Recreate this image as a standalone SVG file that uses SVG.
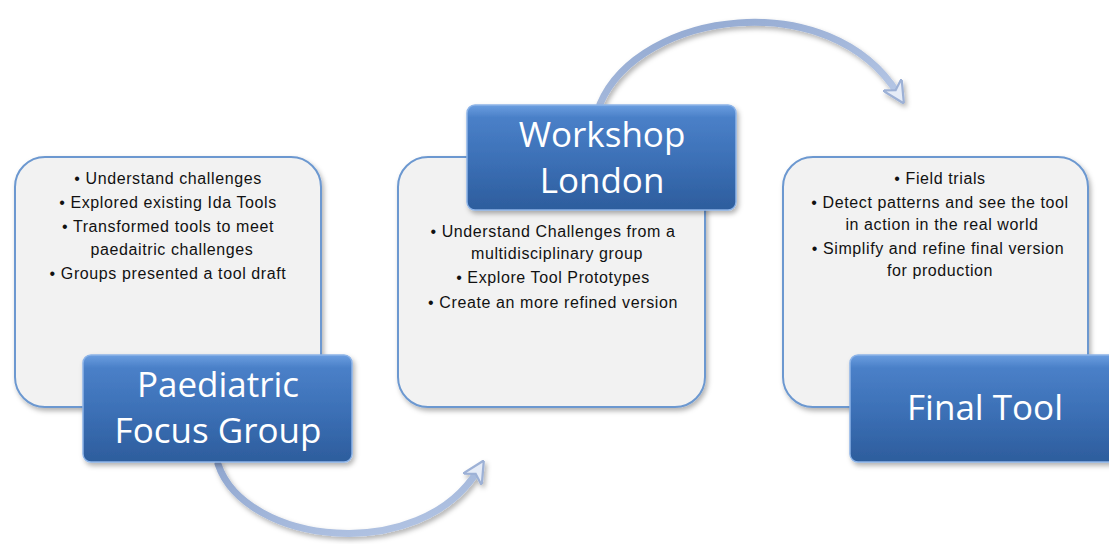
<svg xmlns="http://www.w3.org/2000/svg" width="1109" height="544" viewBox="0 0 1109 544">
<defs>
<linearGradient id="blueG" x1="0" y1="0" x2="0" y2="1">
<stop offset="0" stop-color="#6b9ee0"/>
<stop offset="0.12" stop-color="#4a80c8"/>
<stop offset="0.55" stop-color="#3b6fb5"/>
<stop offset="1" stop-color="#2d5d9d"/>
</linearGradient>
<linearGradient id="arrowG" x1="0" y1="0" x2="1" y2="1">
<stop offset="0" stop-color="#8fa6cf"/>
<stop offset="1" stop-color="#b7c8e6"/>
</linearGradient>
<filter id="sh" x="-10%" y="-10%" width="130%" height="130%">
<feDropShadow dx="2" dy="3" stdDeviation="2.5" flood-color="#000" flood-opacity="0.3"/>
</filter>
<marker id="ah" viewBox="0 0 10 10" refX="5" refY="5" markerWidth="3.2" markerHeight="3.2" orient="auto" markerUnits="strokeWidth">
<path d="M0,0 L10,5 L0,10 L3,5 Z" fill="#e6ecf7" stroke="#9db1d6" stroke-width="1"/>
</marker>
</defs>
<style>
.card{fill:#f2f2f2;stroke:#6c98d0;stroke-width:2;filter:url(#sh)}
.lab{fill:url(#blueG);stroke:#8db4e8;stroke-width:1.5;filter:url(#sh)}
.t{font-family:"Liberation Sans",Arial,sans-serif;font-size:16px;letter-spacing:0.6px;fill:#111;text-anchor:middle}
.h{font-family:"Open Sans","Liberation Sans",sans-serif;font-size:35px;fill:#fff;text-anchor:middle}
.arr{fill:none;stroke:url(#arrowG);stroke-width:7;stroke-linecap:round;filter:url(#sh)}
</style>
<g id="connectors">
<path class="arr" d="M218 464 C 245 545, 420 565, 478 470" marker-end="url(#ah)"/>
<path class="arr" d="M600 104 C 640 10, 830 -15, 898 94" marker-end="url(#ah)"/>
</g>
<g id="node-paediatric">
<rect class="card" x="15" y="157" width="306" height="250" rx="30"/>
<text class="t" x="168" y="184">• Understand challenges</text>
<text class="t" x="168" y="208">• Explored existing Ida Tools</text>
<text class="t" x="168" y="232">• Transformed tools to meet</text>
<text class="t" x="172" y="255">paedaitric challenges</text>
<text class="t" x="168" y="279">• Groups presented a tool draft</text>
<rect class="lab" x="83" y="355" width="269" height="107" rx="8"/>
<text class="h" x="218" y="397">Paediatric</text>
<text class="h" x="218" y="443">Focus Group</text>
</g>
<g id="node-workshop">
<rect class="card" x="398" y="157" width="307" height="250" rx="30"/>
<text class="t" x="553" y="237">• Understand Challenges from a</text>
<text class="t" x="557" y="259">multidisciplinary group</text>
<text class="t" x="553" y="283">• Explore Tool Prototypes</text>
<text class="t" x="553" y="308">• Create an more refined version</text>
<rect class="lab" x="467" y="105" width="269" height="105" rx="8"/>
<text class="h" x="602" y="147">Workshop</text>
<text class="h" x="602" y="193">London</text>
</g>
<g id="node-final">
<rect class="card" x="783" y="157" width="305" height="250" rx="30"/>
<text class="t" x="940" y="184">• Field trials</text>
<text class="t" x="940" y="208">• Detect patterns and see the tool</text>
<text class="t" x="942" y="230">in action in the real world</text>
<text class="t" x="938" y="254">• Simplify and refine final version</text>
<text class="t" x="940" y="276">for production</text>
<rect class="lab" x="850" y="355" width="275" height="107" rx="8"/>
<text class="h" x="985" y="420">Final Tool</text>
</g>
</svg>
